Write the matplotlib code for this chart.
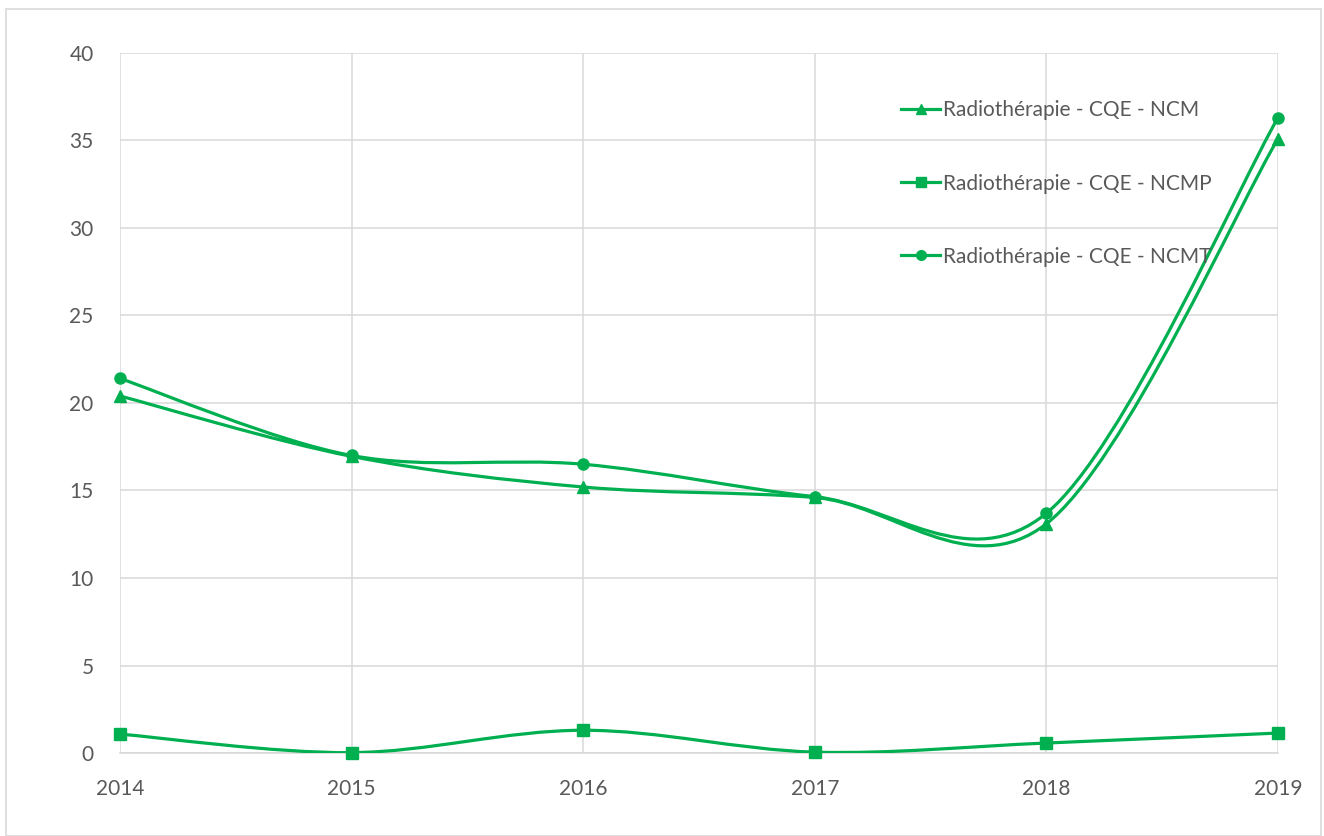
import matplotlib
matplotlib.use("Agg")
import matplotlib.pyplot as plt
from matplotlib.path import Path
from matplotlib.patches import PathPatch, Rectangle
from matplotlib.lines import Line2D
import numpy as np

# data
years = [2014, 2015, 2016, 2017, 2018, 2019]
ncm = [20.4, 16.95, 15.2, 14.6, 13.1, 35.1]
ncmp = [1.08, 0.02, 1.3, 0.05, 0.57, 1.14]
ncmt = [21.4, 17.0, 16.5, 14.65, 13.7, 36.3]

labels = ["Radiothérapie - CQE - NCM", "Radiothérapie - CQE - NCMP", "Radiothérapie - CQE - NCMT"]
markers = ["^", "s", "o"]
green = "#00B050"
grey_txt = "#595959"

plt.rcParams['font.family'] = ['Lato', 'DejaVu Sans']


def smooth_path(x, y):
    """Excel-style smoothed line: cubic Bezier through the points."""
    pts = np.column_stack([x, y]).astype(float)
    n = len(pts)
    verts = [pts[0]]
    codes = [Path.MOVETO]
    for i in range(n - 1):
        p0 = pts[i - 1] if i > 0 else pts[i]
        p1 = pts[i]
        p2 = pts[i + 1]
        p3 = pts[i + 2] if i + 2 < n else pts[i + 1]
        c1 = p1 + (p2 - p0) / 6.0
        c2 = p2 - (p3 - p1) / 6.0
        verts += [c1, c2, p2]
        codes += [Path.CURVE4] * 3
    return Path(verts, codes)


fig = plt.figure(figsize=(13.24, 8.36), dpi=100)
ax = fig.add_axes([120 / 1324, 1 - 753 / 836, (1278 - 120) / 1324, (753 - 53) / 836])

# outer chart border
fig.patches.append(Rectangle((6 / 1324, 0.0), 1315 / 1324, 1 - 9 / 836, transform=fig.transFigure,
                             fill=False, edgecolor="#D9D9D9", lw=1.2))

handles = []
for vals, lab, mk in zip([ncm, ncmp, ncmt], labels, markers):
    ax.add_patch(PathPatch(smooth_path(years, vals), fill=False, edgecolor=green, lw=2.3,
                           capstyle="round", zorder=3))
    ax.plot(years, vals, linestyle="none", marker=mk, color=green, markersize=8, zorder=4,
            clip_on=False)
    handles.append(Line2D([], [], color=green, lw=2.3, marker=mk, markersize=7))

ax.set_xlim(2014, 2019)
ax.set_ylim(0, 40)
ax.set_xticks(years)
ax.set_yticks(range(0, 45, 5))
ax.grid(True, color="#D9D9D9", lw=1.1)
ax.set_axisbelow(True)
for s in ["top", "right", "left"]:
    ax.spines[s].set_visible(False)
ax.spines["bottom"].set_color("#D9D9D9")
ax.spines["bottom"].set_linewidth(1.2)
ax.tick_params(length=0, labelsize=15, labelcolor=grey_txt)
ax.tick_params(axis="x", pad=19)
ax.tick_params(axis="y", pad=19)

leg = ax.legend(handles, labels, loc="upper left", bbox_to_anchor=(0.658, 0.959), frameon=False,
                fontsize=15, labelspacing=2.55, handlelength=1.9, handletextpad=0.12)
for t in leg.get_texts():
    t.set_color(grey_txt)

fig.savefig("out.png", dpi=100, facecolor="white")
